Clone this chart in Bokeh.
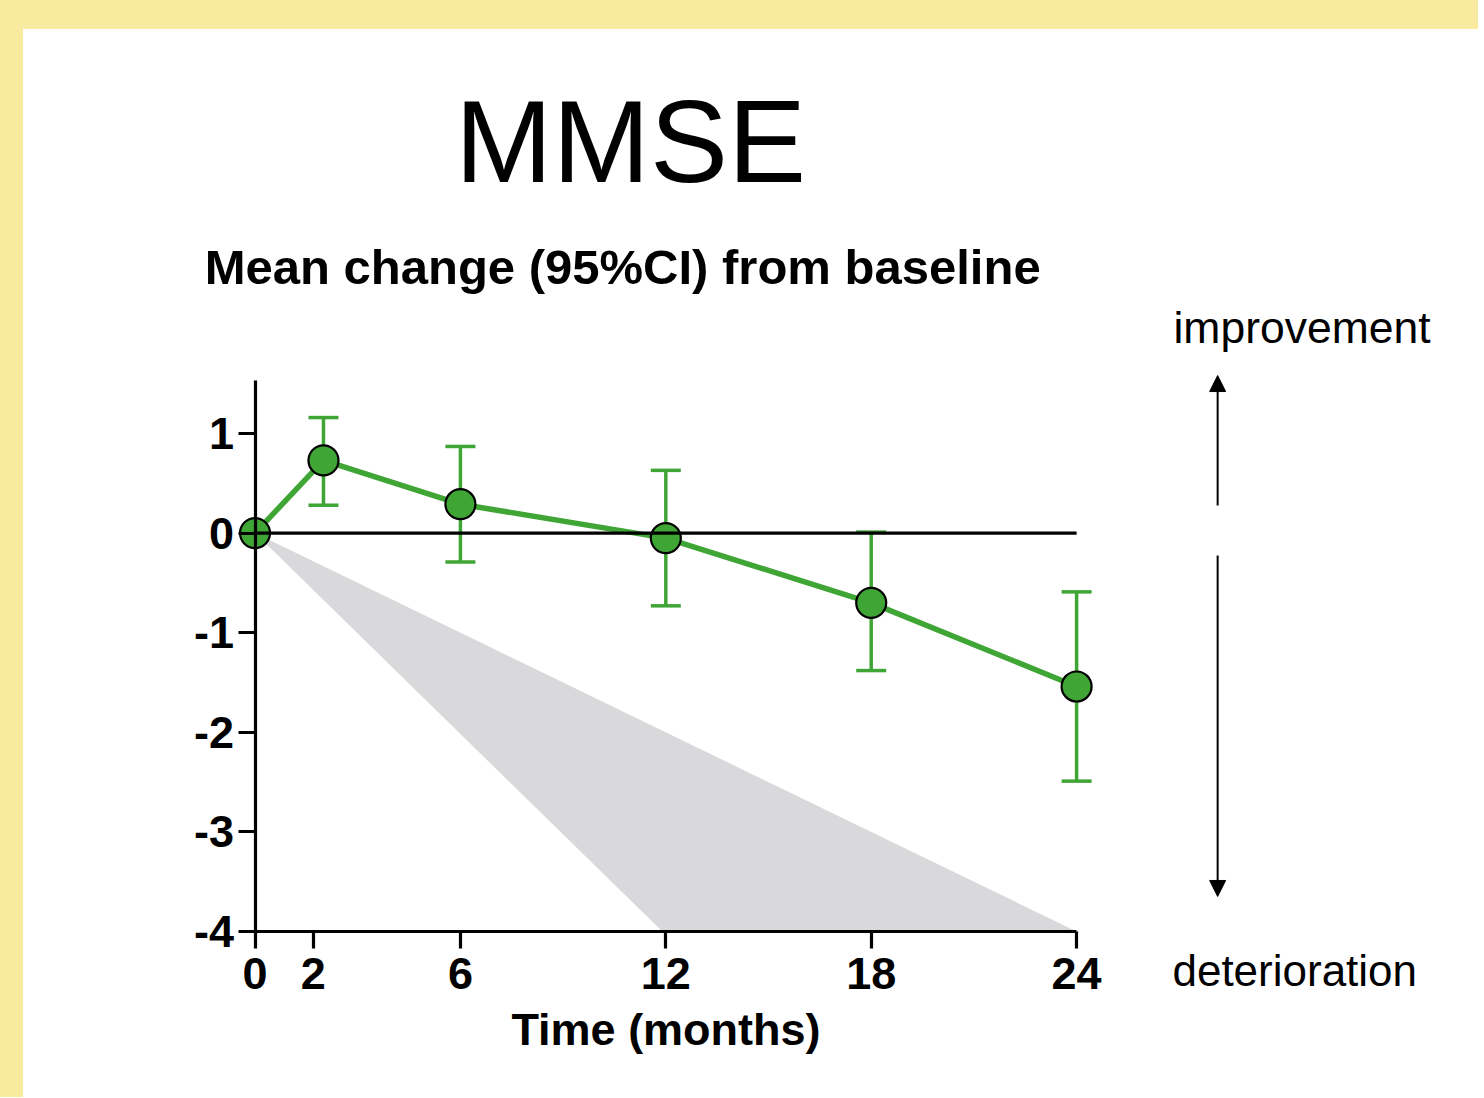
from bokeh.plotting import figure
from bokeh.models import (Range1d, LinearAxis, FixedTicker, ColumnDataSource, Whisker,
                          TeeHead, Label, Arrow, NormalHead, Div)
from bokeh.layouts import row, column
from bokeh.embed import file_html
from bokeh.resources import INLINE

# ---- data ----
months = [0, 2, 6, 12, 18, 24]
mean_change = [0.0, 0.73, 0.29, -0.05, -0.70, -1.54]
ci_months = [2, 6, 12, 18, 24]
ci_upper = [1.16, 0.87, 0.63, 0.01, -0.59]
ci_lower = [0.28, -0.29, -0.73, -1.38, -2.49]
band_x = [0, 11.9, 24]          # grey reference decline region
band_y = [0, -4, -4]
zero_x = [0, 24]
zero_y = [0, 0]
x_ticks = [0, 1.7, 6, 12, 18, 24]
x_tick_labels = {1.7: "2"}
y_ticks = [-4, -3, -2, -1, 0, 1]
y_tick_labels = {-4: "-4", -3: "-3", -2: "-2", -1: "-1", 0: "0", 1: "1"}

title_text = "MMSE"
subtitle_text = "Mean change (95%CI) from baseline"
x_label = "Time (months)"
up_text = "improvement"
down_text = "deterioration"

GREEN = "#3FA535"
GREY = "#D9D9DB"
YELLOW = "#F8EBA0"
FONT = "Liberation Sans"

W, H = 1455, 1062

p = figure(width=W, height=H, output_backend="svg", toolbar_location=None,
           x_axis_type=None, y_axis_type=None,
           x_range=Range1d(-6.763, 35.74), y_range=Range1d(-5.606, 5.056),
           min_border=0, min_border_left=0, min_border_right=0,
           min_border_top=0, min_border_bottom=0)
p.outline_line_color = None
p.background_fill_color = "white"
p.border_fill_color = "white"

# grey region
p.patch(band_x, band_y, fill_color=GREY, line_color=None)

# error bars
src = ColumnDataSource(dict(x=ci_months, upper=ci_upper, lower=ci_lower))
wh = Whisker(source=src, base="x", upper="upper", lower="lower", dimension="height",
             line_color=GREEN, line_width=3.5,
             upper_head=TeeHead(size=30, line_color=GREEN, line_width=3.5),
             lower_head=TeeHead(size=30, line_color=GREEN, line_width=3.5),
             level="underlay")
p.add_layout(wh)

# mean line and markers
p.line(months, mean_change, line_color=GREEN, line_width=5.5)
p.scatter(months, mean_change, size=30, fill_color=GREEN, line_color="black", line_width=2.2)

# zero reference line on top
p.line(zero_x, zero_y, line_color="black", line_width=3.2)

axis_common = dict(axis_line_width=3.2, axis_line_color="black",
                   major_tick_line_width=3.2, major_tick_line_color="black",
                   major_tick_out=17, major_tick_in=0,
                   minor_tick_out=0, minor_tick_in=0,
                   major_label_text_font=FONT, major_label_text_font_style="bold",
                   major_label_text_font_size="45px", major_label_text_color="black")

yaxis = LinearAxis(fixed_location=0, bounds=(-4, 1.53),
                   ticker=FixedTicker(ticks=y_ticks), major_label_overrides=y_tick_labels,
                   major_label_standoff=4, **axis_common)
p.add_layout(yaxis, "left")

xaxis = LinearAxis(fixed_location=-4, bounds=(0, 24),
                   ticker=FixedTicker(ticks=x_ticks),
                   major_label_overrides=x_tick_labels, major_label_standoff=9,
                   axis_label=x_label, axis_label_text_font=FONT,
                   axis_label_text_font_style="bold", axis_label_text_font_size="45px",
                   axis_label_text_color="black", axis_label_standoff=12,
                   **axis_common)
p.add_layout(xaxis, "below")

# titles
p.add_layout(Label(x=10.97, y=3.93, text=title_text, text_font=FONT,
                   text_font_size="117px", text_align="center",
                   text_baseline="alphabetic", text_color="black"))
p.add_layout(Label(x=10.74, y=2.667, text=subtitle_text, text_font=FONT,
                   text_font_size="49px", text_font_style="bold", text_align="center",
                   text_baseline="alphabetic", text_color="black"))

# side annotations
p.add_layout(Label(x=26.83, y=2.065, text=up_text, text_font=FONT,
                   text_font_size="44.5px", text_align="left",
                   text_baseline="alphabetic", text_color="black"))
p.add_layout(Label(x=26.80, y=-4.39, text=down_text, text_font=FONT,
                   text_font_size="44px", text_align="left",
                   text_baseline="alphabetic", text_color="black"))
p.add_layout(Arrow(x_start=28.12, y_start=0.277, x_end=28.12, y_end=1.582,
                   line_width=2, line_color="black",
                   end=NormalHead(size=16, fill_color="black", line_color="black")))
p.add_layout(Arrow(x_start=28.12, y_start=-0.225, x_end=28.12, y_end=-3.648,
                   line_width=2, line_color="black",
                   end=NormalHead(size=16, fill_color="black", line_color="black")))

left_band = Div(text="", width=23, height=1097, margin=0,
                styles={"background-color": YELLOW})
top_band = Div(text="", width=W, height=29, margin=0,
               styles={"background-color": YELLOW})
layout = row(left_band, column(top_band, p, spacing=0), spacing=0)

open("out.html", "w").write(file_html(layout, INLINE))
